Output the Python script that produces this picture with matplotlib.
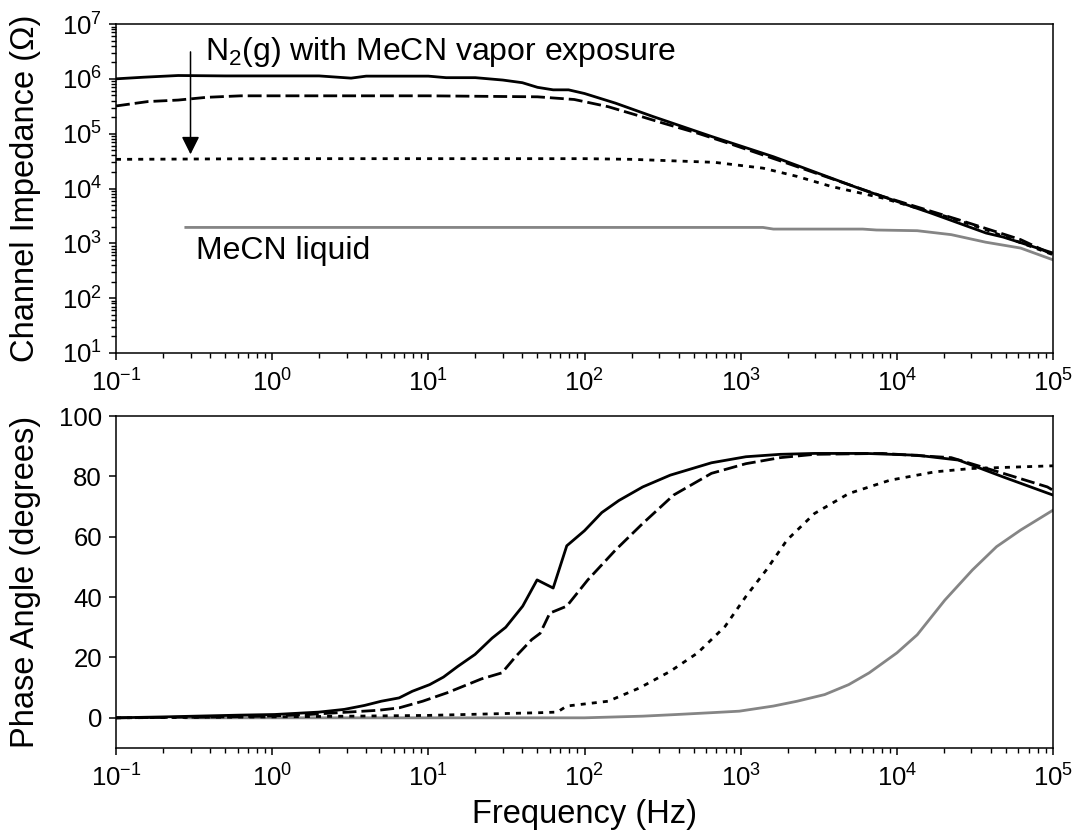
import matplotlib
matplotlib.use("Agg")
import matplotlib.pyplot as plt
from matplotlib.ticker import LogLocator, NullFormatter

plt.rcParams['font.family'] = ['Liberation Sans', 'DejaVu Sans']
plt.rcParams['mathtext.default'] = 'regular'
plt.rcParams['axes.unicode_minus'] = False

# impedance data (Hz, ohm)
f_z_solid = [0.1, 0.15, 0.25, 0.5, 1, 2, 3.2, 4, 10, 13, 20, 30, 40, 50, 63, 79, 100,
             158, 275, 650, 1620, 6050, 16600, 37300, 48000, 1e5]
z_solid = [1.0e6, 1.07e6, 1.15e6, 1.13e6, 1.13e6, 1.13e6, 1.03e6, 1.12e6, 1.12e6, 1.05e6,
           1.05e6, 9.5e5, 8.5e5, 7e5, 6.3e5, 6.3e5, 5.4e5, 3.6e5, 2.05e5, 8.9e4, 3.8e4,
           9.5e3, 3.55e3, 1.54e3, 1.3e3, 665]

f_z_dash = [0.1, 0.16, 0.25, 0.38, 0.63, 1, 10, 50, 86, 142, 225, 320, 530, 835, 1980,
            8100, 24800, 62000, 1e5]
z_dash = [3.2e5, 3.85e5, 4.1e5, 4.6e5, 4.9e5, 4.9e5, 4.9e5, 4.7e5, 4.2e5, 3.1e5, 2.1e5,
          1.55e5, 1.02e5, 6.7e4, 2.9e4, 7.2e3, 2.7e3, 1.17e3, 620]

f_z_dot = [0.1, 1, 10, 100, 203, 680, 1390, 2300, 3800, 8100, 22300, 37000, 1e5]
z_dot = [3.4e4, 3.5e4, 3.5e4, 3.5e4, 3.4e4, 3.0e4, 2.35e4, 1.66e4, 1.09e4, 6.7e3, 2.9e3,
         1.78e3, 620]

f_z_liq = [0.28, 1, 10, 100, 1390, 1620, 6050, 7400, 13500, 22300, 37000, 62000, 1e5]
z_liq = [1.95e3, 1.95e3, 1.95e3, 1.95e3, 1.95e3, 1.82e3, 1.82e3, 1.75e3, 1.7e3, 1.44e3,
         1.05e3, 820, 500]

# phase data (Hz, degrees)
f_p_solid = [0.1, 0.2, 0.63, 1.04, 2.0, 2.9, 3.9, 5, 6.5, 7.9, 10.2, 12.5, 15.4, 19.9,
             25.6, 31.3, 40.2, 49.7, 63, 77, 100, 129, 166, 236, 354, 650, 1080, 1790,
             2970, 6300, 13500, 24800, 48000, 1e5]
p_solid = [0, 0.3, 0.9, 1.1, 1.9, 2.8, 4.1, 5.5, 6.6, 8.8, 11, 13.5, 17, 21, 26.4, 30, 37,
           45.7, 43, 57, 62, 68, 72, 76.5, 80.4, 84.5, 86.5, 87.3, 87.6, 87.6, 87, 85.4,
           79.8, 73.8]

f_p_dash = [0.1, 0.5, 1.0, 1.7, 4.8, 6.5, 9.2, 13.2, 21.9, 29.6, 36.4, 45.9, 52, 60, 77,
            105, 158, 236, 372, 650, 1080, 1790, 2970, 8100, 22300, 48000, 92000, 1e5]
p_dash = [0, 0.3, 0.6, 1.1, 2.5, 3.3, 5.5, 8.3, 12.9, 14.9, 20.4, 25.9, 28, 34.7, 37,
          45.7, 55.6, 64.4, 73.8, 81, 84.2, 86.2, 87.3, 87.6, 86.2, 81, 76.5, 75.4]

f_p_dot = [0.1, 1, 10, 52, 67, 77, 142, 225, 354, 530, 795, 1080, 1460, 1980, 2970, 4920,
           9000, 17500, 30000, 1e5]
p_dot = [0, 0.3, 0.8, 1.7, 1.9, 3.9, 5.5, 9.9, 15.4, 21.5, 30.3, 40.2, 49, 58.9, 67.7,
         74.3, 78.7, 81.5, 82.6, 83.5]

f_p_liq = [0.28, 1, 10, 100, 236, 390, 650, 980, 1620, 2300, 3450, 4920, 6650, 10000,
           13500, 20300, 30500, 43500, 62000, 1e5]
p_liq = [0, 0, 0, 0, 0.55, 1.1, 1.7, 2.2, 3.9, 5.5, 7.7, 11, 14.9, 21.5, 27.5, 39, 49,
         56.7, 62.2, 68.8]

gray = '#858585'
lw = 2.0

fig = plt.figure(figsize=(10.79, 8.31), dpi=100)
ax1 = fig.add_axes([116/1079, 1-353/831, 937/1079, 329/831])
ax2 = fig.add_axes([116/1079, 1-748/831, 937/1079, 332/831])

ax1.plot(f_z_liq, z_liq, color=gray, lw=lw)
ax1.plot(f_z_dot, z_dot, color='black', lw=lw, dashes=(1.8, 2.2))
ax1.plot(f_z_dash, z_dash, color='black', lw=lw, dashes=(5, 1.8))
ax1.plot(f_z_solid, z_solid, color='black', lw=lw)

ax2.plot(f_p_liq, p_liq, color=gray, lw=lw)
ax2.plot(f_p_dot, p_dot, color='black', lw=lw, dashes=(1.8, 2.2))
ax2.plot(f_p_dash, p_dash, color='black', lw=lw, dashes=(5, 1.8))
ax2.plot(f_p_solid, p_solid, color='black', lw=lw)

for ax in (ax1, ax2):
    ax.set_xscale('log')
    ax.set_xlim(0.1, 1e5)
    ax.xaxis.set_minor_locator(LogLocator(base=10, subs=range(2, 10)))
    ax.xaxis.set_minor_formatter(NullFormatter())
    ax.tick_params(which='major', direction='out', length=5, width=1.1, labelsize=18.5,
                   top=False, right=False, pad=5)
    ax.tick_params(axis='x', which='major', pad=7)
    ax.tick_params(which='minor', direction='out', length=3.5, width=1.0,
                   top=False, right=False)
    for s in ax.spines.values():
        s.set_linewidth(1.1)

ax1.set_yscale('log')
ax1.set_ylim(10, 1e7)
ax1.yaxis.set_major_locator(LogLocator(base=10, numticks=10))
ax1.yaxis.set_minor_locator(LogLocator(base=10, subs=range(2, 10), numticks=100))
ax1.yaxis.set_minor_formatter(NullFormatter())

ax2.set_ylim(-10, 100)
ax2.set_yticks([0, 20, 40, 60, 80, 100])

ax1.set_ylabel('Channel Impedance (Ω)', fontsize=23.5)
ax2.set_ylabel('Phase Angle (degrees)', fontsize=23.5)
ax2.set_xlabel('Frequency (Hz)', fontsize=23.5)
ax1.yaxis.set_label_coords(-0.08, 0.5)
ax2.yaxis.set_label_coords(-0.08, 0.5)
ax2.xaxis.set_label_coords(0.5, -0.155)

# annotations
ax1.text(0.095, 0.915, 'N$_2$(g) with MeCN vapor exposure', transform=ax1.transAxes,
         fontsize=23, va='center', ha='left')
ax1.text(0.085, 0.31, 'MeCN liquid', transform=ax1.transAxes,
         fontsize=23, va='center', ha='left')
arrow_x = 0.30
ax1.annotate('', xy=(arrow_x, 4.2e4), xytext=(arrow_x, 3.1e6),
             arrowprops=dict(arrowstyle='-|>', color='black', lw=1.1,
                             mutation_scale=27, shrinkA=0, shrinkB=0))

fig.savefig('out.png', dpi=100)
